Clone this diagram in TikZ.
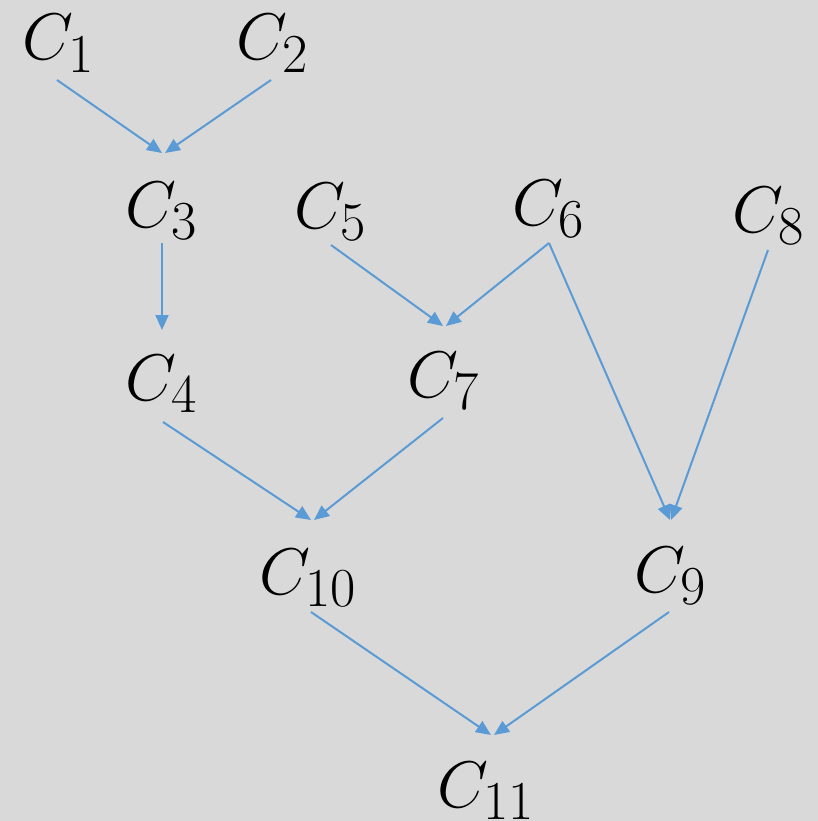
\documentclass[tikz,border=0pt]{standalone}
\usetikzlibrary{arrows.meta}
\definecolor{bg}{HTML}{D9D9D9}
\definecolor{arr}{HTML}{5B9BD5}
\newcommand{\lab}[1]{\scalebox{2.65}{\fontsize{24.88}{28}\selectfont$#1$}}
\begin{document}
\begin{tikzpicture}[x=1pt,y=-1pt,
  lbl/.style={anchor=base west,inner sep=0pt},
  conn/.style={draw=arr,line width=2pt,-{Triangle[length=15pt,width=13pt]}}]
\fill[bg] (0,0) rectangle (818,821);
\useasboundingbox (0,0) rectangle (818,821);
% labels
\node[lbl] (c1) at (22,60) {\lab{C_1}};
\node[lbl] (c2) at (236,60) {\lab{C_2}};
\node[lbl] (c3) at (125,227) {\lab{C_3}};
\node[lbl] (c5) at (294,228) {\lab{C_5}};
\node[lbl] (c6) at (512,225) {\lab{C_6}};
\node[lbl] (c8) at (732,232) {\lab{C_8}};
\node[lbl] (c4) at (125,400) {\lab{C_4}};
\node[lbl] (c7) at (407,397) {\lab{C_7}};
\node[lbl] (c10) at (259,594) {\lab{C_{10}}};
\node[lbl] (c9) at (634,592) {\lab{C_9}};
\node[lbl] (c11) at (437,807) {\lab{C_{11}}};
% connector ends
\coordinate (a1) at (57,80);   \coordinate (a2) at (271,80);
\coordinate (b3a) at (162,153); \coordinate (b3b) at (165,153);
\coordinate (a3) at (162,243); \coordinate (b4) at (162,330);
\coordinate (a5) at (331,245); \coordinate (b7a) at (443,326);
\coordinate (a6) at (549,243); \coordinate (b7b) at (446,326);
\coordinate (b9a) at (670,520); \coordinate (a8) at (768,250);
\coordinate (b9b) at (671,520);
\coordinate (a4) at (163,422); \coordinate (b10a) at (311,520);
\coordinate (a7) at (443,418); \coordinate (b10b) at (314,520);
\coordinate (a10) at (311,612); \coordinate (b11a) at (491,735);
\coordinate (a9) at (669,612); \coordinate (b11b) at (494,735);
\draw[conn] (a1) -- (b3a);
\draw[conn] (a2) -- (b3b);
\draw[conn] (a3) -- (b4);
\draw[conn] (a5) -- (b7a);
\draw[conn] (a6) -- (b7b);
\draw[conn] (a6) -- (b9a);
\draw[conn] (a8) -- (b9b);
\draw[conn] (a4) -- (b10a);
\draw[conn] (a7) -- (b10b);
\draw[conn] (a10) -- (b11a);
\draw[conn] (a9) -- (b11b);
\end{tikzpicture}
\end{document}
